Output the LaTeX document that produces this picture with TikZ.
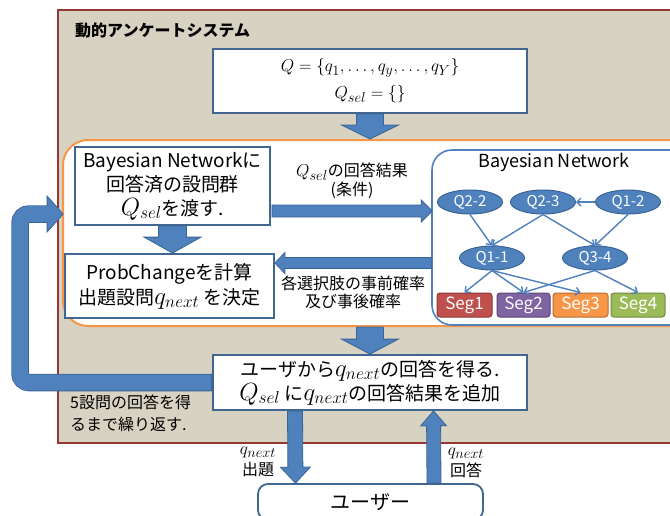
\documentclass[tikz,border=0pt]{standalone}
\usepackage[no-math]{fontspec}
\setmainfont{Noto Sans CJK JP}
\usetikzlibrary{calc,arrows.meta,shapes.geometric}
\pgfdeclarelayer{back}
\pgfdeclarelayer{arr}
\pgfsetlayers{back,arr,main}
\DeclareMathSizes{23}{23}{18}{13}
\DeclareMathSizes{19}{19}{14.5}{11}
\DeclareMathSizes{18}{18}{14}{10}
\newcommand\mA[1]{{\fontsize{23}{24}\selectfont$#1$}}
\newcommand\mC[1]{{\fontsize{18}{18}\selectfont$#1$}}

\definecolor{tanfill}{HTML}{D7D2C2}
\definecolor{tanline}{HTML}{953735}
\definecolor{orangeline}{HTML}{F79646}
\definecolor{boxline}{HTML}{41668F}
\definecolor{arrfill}{HTML}{4F81BD}
\definecolor{arrline}{HTML}{3A6495}
\definecolor{segA}{HTML}{C0504D}\definecolor{segAl}{HTML}{8C3836}
\definecolor{segB}{HTML}{8064A2}\definecolor{segBl}{HTML}{5C4776}
\definecolor{segC}{HTML}{F79646}\definecolor{segCl}{HTML}{B66D31}
\definecolor{segD}{HTML}{9BBB59}\definecolor{segDl}{HTML}{71893F}

\tikzset{
  plainbox/.style={draw=boxline, line width=1.8pt, fill=white, inner sep=0pt, align=center,
    font=\fontsize{19}{24}\selectfont},
  blockarr/.style={fill=arrfill, draw=arrline, line width=0.8pt, line join=miter},
  bnnode/.style={ellipse, fill=arrfill, draw=arrline, line width=1pt, minimum width=65pt,
    minimum height=24pt, inner sep=0pt, text=white, font=\fontsize{15}{15}\selectfont},
  segbox/.style={rounded corners=3pt, minimum width=55pt, minimum height=24pt, inner sep=0pt,
    text=white, font=\fontsize{17}{17}\selectfont, line width=1pt},
  bnedge/.style={draw=arrfill, line width=1.4pt, -{Straight Barb[length=4pt,width=8pt]}},
  lbl/.style={inner sep=0pt, align=center, font=\fontsize{16}{18}\selectfont},
}

% #1 start, #2 end, #3 shaft half width, #4 head half width, #5 head length
\newcommand\blockarrow[5]{%
  \filldraw[blockarr] let \p1=(#1), \p2=(#2),
    \n1={atan2(\y2-\y1,\x2-\x1)}, \n2={veclen(\x2-\x1,\y2-\y1)} in
    [shift={(\p1)}, rotate=\n1]
    (0pt,-#3pt) -- (\n2-#5pt,-#3pt) -- (\n2-#5pt,-#4pt) -- (\n2,0pt)
    -- (\n2-#5pt,#4pt) -- (\n2-#5pt,#3pt) -- (0pt,#3pt) -- cycle;}

\begin{document}
\begin{tikzpicture}[x=1pt,y=-1pt]
\useasboundingbox (0,0) rectangle (670,515);
\clip (0,0) rectangle (670,515);

\begin{pgfonlayer}{back}
\node[draw=tanline, fill=tanfill, line width=2pt, minimum width=652pt, minimum height=433pt,
  inner sep=0pt] (sys) at (384,226.5) {};
\node[draw=orangeline, fill=white, line width=2pt, rounded corners=25pt, minimum width=642pt,
  minimum height=186pt, inner sep=0pt] (orange) at (384,233) {};
\node[draw=arrfill, fill=white, line width=1.6pt, rounded corners=20pt, minimum width=268pt,
  minimum height=175pt, inner sep=0pt] (bnbox) at (566,237.5) {};
\end{pgfonlayer}

\node[anchor=west, inner sep=0pt, font=\fontsize{16}{16}\selectfont\bfseries] (title) at (75,30) {動的アンケートシステム};

\node[plainbox, minimum width=314pt, minimum height=64pt, font=\fontsize{19}{27}\selectfont]
  (qbox) at (370,81) {$Q = \{q_1,\ldots,q_y,\ldots,q_Y\}$\\$Q_{sel} = \{\}$};

\node[plainbox, minimum width=195pt, minimum height=78pt] (box1) at (172.5,186)
  {Bayesian Networkに\\回答済の設問群\\\mA{Q_{sel}}を渡す.};
\node[plainbox, minimum width=209pt, minimum height=64pt, font=\fontsize{19}{25}\selectfont]
  (box2) at (169.5,286) {ProbChangeを計算\\出題設問\mA{q_{next}} を決定};

\node[plainbox, minimum width=314pt, minimum height=55pt] (resbox) at (370,382.5)
  {ユーザから\mA{q_{next}}の回答を得る.\\\mA{Q_{sel}} に\mA{q_{next}}の回答結果を追加};

\node[plainbox, rounded corners=10pt, minimum width=225pt, minimum height=36pt,
  font=\fontsize{20}{20}\selectfont] (user) at (370.5,502) {ユーザー};

\node[lbl, font=\fontsize{16}{19}\selectfont] (lab1) at (352,181) {\mC{Q_{sel}}の回答結果\\(条件)};
\node[lbl] (lab2) at (353,292) {各選択肢の事前確率\\及び事後確率};
\node[lbl, align=left, anchor=north west, font=\fontsize{16}{22}\selectfont] (lab3) at (70,395)
  {5設問の回答を得\\るまで繰り返す.};
\node[lbl, font=\fontsize{16}{21}\selectfont] (lab4) at (258,462) {\mC{q_{next}}\\出題};
\node[lbl, font=\fontsize{16}{21}\selectfont] (lab5) at (466,463) {\mC{q_{next}}\\回答};

% Bayesian network
\node[inner sep=0pt, font=\fontsize{18}{18}\selectfont] (bntitle) at (554,162) {Bayesian Network};
\node[bnnode] (q22) at (470,202) {Q2-2};
\node[bnnode] (q23) at (543,202) {Q2-3};
\node[bnnode] (q12) at (628,202) {Q1-2};
\node[bnnode] (q11) at (492,258) {Q1-1};
\node[bnnode] (q34) at (595,258) {Q3-4};
\node[segbox, fill=segA, draw=segAl] (seg1) at (464.5,305) {Seg1};
\node[segbox, fill=segB, draw=segBl, minimum width=53pt] (seg2) at (523.5,305) {Seg2};
\node[segbox, fill=segC, draw=segCl] (seg3) at (580.5,305) {Seg3};
\node[segbox, fill=segD, draw=segDl, minimum width=54pt] (seg4) at (638,305) {Seg4};

\draw[bnedge] (q12) -- (q23);
\draw[bnedge] (q22.south) -- (q11.north);
\draw[bnedge] (q23.south) -- (q11.north);
\draw[bnedge] (q23.south) -- (q34.north);
\draw[bnedge] (q12.south) -- (q34.north);
\draw[bnedge] (q11.south) -- (seg1.north);
\draw[bnedge] (q11.south) -- (seg2.north);
\draw[bnedge] (q11.south) -- (seg3.north);
\draw[bnedge] (q34.south) -- (seg2.north);
\draw[bnedge] (q34.south) -- (seg4.north);

% block arrows
\begin{pgfonlayer}{arr}
\coordinate (o1) at (qbox.south |- orange.north);
\blockarrow{qbox.south}{o1}{13.5}{28.5}{14}
\coordinate (b2) at (box1.south |- box2.north);
\blockarrow{box1.south}{b2}{14}{28.5}{16}
\blockarrow{$(box1.east)+(1,25)$}{$(bnbox.west)+(1,-26.5)$}{6}{11}{11}
\blockarrow{$(bnbox.west)+(0,25.5)$}{$(box2.east)+(0,-23)$}{5.5}{10.5}{10}
\coordinate (o2) at (resbox.north |- orange.south);
\blockarrow{o2}{resbox.north}{13.5}{28.5}{15}
\blockarrow{$(resbox.south)+(-75,0)$}{$(user.north)+(-75,0)$}{7.5}{15}{16}
\blockarrow{$(user.north)+(63.5,0)$}{$(resbox.south)+(63.5,0)$}{7}{13}{15}
% loop arrow
\coordinate (looptip) at ($(box1.west)+(-11,28)$);
\draw[arrline, line width=17.5pt, rounded corners=9pt] (resbox.west) -| (20,214) -- ($(looptip)+(-16,0)$);
\filldraw[blockarr] ($(looptip)+(-16,-18)$) -- (looptip) -- ($(looptip)+(-16,18)$) -- cycle;
\draw[arrfill, line width=15.9pt, rounded corners=9pt] ($(resbox.west)+(-1,0)$) -| (20,214) -- ($(looptip)+(-15,0)$);
\end{pgfonlayer}
\end{tikzpicture}
\end{document}
